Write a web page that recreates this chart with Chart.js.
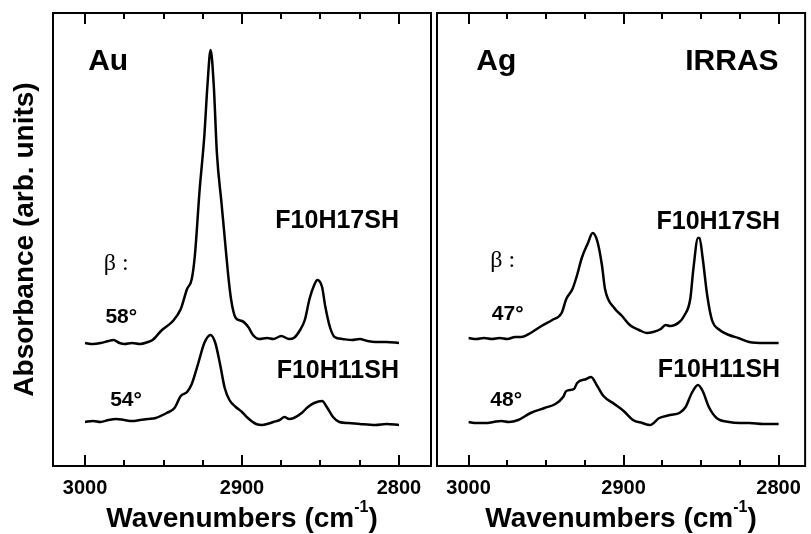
<!DOCTYPE html>
<html>
<head>
<meta charset="utf-8">
<title>IRRAS Au / Ag</title>
<script src="https://cdn.jsdelivr.net/npm/chart.js"></script>
<style>
  html, body { margin: 0; padding: 0; background: #fff; }
  #wrap { position: relative; width: 811px; height: 534px; }
  #wrap canvas { position: absolute; top: 0; }
  #auChart { left: 0; }
  #agChart { left: 434px; }
</style>
</head>
<body>
<div id="wrap">
  <canvas id="auChart" width="434" height="534"></canvas>
  <canvas id="agChart" width="377" height="534"></canvas>
</div>
<script>
// spectra: wavenumber (cm-1) and absorbance (arb. units, stacked offsets)
const auH17Wn  = [3000, 2995, 2990, 2985, 2982, 2978, 2975, 2970, 2965, 2960, 2957, 2951, 2944, 2939, 2935, 2932, 2930, 2927, 2924, 2922, 2920, 2918, 2916, 2913, 2911, 2909, 2907, 2904, 2900, 2896, 2893, 2889, 2884, 2880, 2875, 2870, 2867, 2863, 2860, 2857, 2854, 2852, 2849, 2847, 2844, 2841, 2836, 2830, 2825, 2820, 2815, 2808, 2800];
const auH17Abs = [123, 122, 123, 125, 126, 123, 122, 123, 122, 124, 126, 136, 145, 157, 177, 187, 211, 276, 330, 381, 416, 381, 313, 262, 228, 194, 167, 148, 145, 139, 131, 127, 128, 127, 130, 127, 128, 136, 146, 167, 181, 186, 179, 160, 139, 129, 127, 126, 127, 125, 124, 124, 123];

const auH11Wn  = [3000, 2995, 2990, 2985, 2980, 2975, 2970, 2965, 2960, 2955, 2948, 2943, 2939, 2935, 2932, 2928, 2924, 2920, 2917, 2914, 2911, 2908, 2904, 2900, 2897, 2891, 2887, 2884, 2880, 2876, 2873, 2870, 2867, 2862, 2858, 2854, 2849, 2846, 2842, 2838, 2832, 2825, 2815, 2808, 2800];
const auH11Abs = [44, 45, 44, 46, 47, 46, 45, 46, 47, 48, 53, 58, 70, 74, 82, 102, 123, 131, 123, 102, 78, 66, 59, 54, 49, 42, 41, 42, 44, 46, 49, 47, 48, 53, 59, 63, 65, 59, 49, 44, 43, 42, 41, 42, 41];

const agH17Wn  = [3000, 2995, 2990, 2985, 2980, 2975, 2970, 2966, 2960, 2953, 2946, 2940, 2937, 2933, 2930, 2927, 2923, 2920, 2917, 2914, 2912, 2906, 2901, 2896, 2890, 2885, 2881, 2876, 2873, 2870, 2864, 2861, 2857, 2855, 2852, 2851, 2849, 2846, 2843, 2838, 2832, 2826, 2819, 2809, 2800];
const agH17Abs = [128, 127, 128, 127, 128, 127, 129, 129, 133, 140, 146, 153, 167, 177, 191, 208, 223, 233, 225, 201, 177, 158, 150, 141, 136, 133, 134, 137, 141, 140, 144, 150, 167, 197, 228, 228, 208, 170, 146, 136, 131, 128, 124, 123, 123];

const agH11Wn  = [3000, 2995, 2989, 2984, 2979, 2974, 2968, 2960, 2951, 2944, 2939, 2937, 2932, 2930, 2924, 2921, 2917, 2913, 2906, 2900, 2894, 2888, 2883, 2877, 2870, 2864, 2860, 2856, 2852, 2849, 2845, 2840, 2832, 2825, 2819, 2810, 2800];
const agH11Abs = [44, 43, 43, 44, 45, 44, 46, 53, 58, 62, 69, 75, 77, 83, 87, 89, 80, 70, 62, 55, 46, 43, 41, 48, 51, 53, 59, 73, 81, 75, 59, 48, 44, 43, 43, 42, 42];

// panel annotations, anchored in data coordinates
const auTexts = ['Au', 'F10H17SH', 'β :', '58°', 'F10H11SH', '54°'];
const auTextWn = [2998, 2800, 2988, 2987, 2800, 2984];
const auTextAbs = [404, 245, 202, 149, 95, 66];

const agTexts = ['Ag', 'IRRAS', 'F10H17SH', 'β :', '47°', 'F10H11SH', '48°'];
const agTextWn = [2995, 2800, 2799, 2986, 2985, 2799, 2986];
const agTextAbs = [404, 404, 244, 205, 152, 96, 66];

const majorTicks = [3000, 2900, 2800];
const minorStep = 25;
const absRange = [0, 453];

const FONT = "'Liberation Sans', Arial, Helvetica, sans-serif";
Chart.defaults.font.family = FONT;
Chart.defaults.color = '#000';

function toPoints(wn, abs) {
  return wn.map((w, i) => ({ x: w, y: abs[i] }));
}

function lineSet(wn, abs) {
  return {
    data: toPoints(wn, abs),
    borderColor: '#000',
    borderWidth: 2.5,
    pointRadius: 0,
    cubicInterpolationMode: 'monotone',
    fill: false
  };
}

// frame, inward ticks, labels and the x title with superscript
const panelPlugin = {
  id: 'panel',
  afterDraw(chart, args, opts) {
    const { ctx, chartArea: a, scales: { x, y } } = chart;
    ctx.save();
    ctx.strokeStyle = '#000';
    ctx.fillStyle = '#000';
    ctx.lineWidth = 2;
    ctx.strokeRect(a.left, a.top, a.right - a.left, a.bottom - a.top);

    // tick marks pointing into the plot, bottom and top
    const lo = Math.min(...majorTicks);
    const hi = Math.max(...majorTicks);
    for (let v = lo; v <= hi; v += minorStep) {
      const px = Math.round(x.getPixelForValue(v));
      const len = majorTicks.includes(v) ? 11 : 6;
      ctx.fillRect(px - 1, a.bottom - len, 2, len);
      ctx.fillRect(px - 1, a.top, 2, len);
    }

    ctx.textBaseline = 'middle';
    opts.texts.forEach((s, i) => {
      const px = x.getPixelForValue(opts.wn[i]);
      const py = y.getPixelForValue(opts.abs[i]);
      ctx.textAlign = (s.startsWith('F10') || s === 'IRRAS') ? 'right' : 'left';
      if (s === 'Au' || s === 'Ag' || s === 'IRRAS') {
        ctx.font = 'bold 30px ' + FONT;
      } else if (s.startsWith('F10')) {
        ctx.font = 'bold 25px ' + FONT;
      } else if (s.startsWith('β')) {
        ctx.font = "24px 'Liberation Serif', 'Times New Roman', serif";
      } else {
        ctx.font = 'bold 21px ' + FONT;
      }
      ctx.fillText(s, px, py);
    });

    // axis title: Wavenumbers (cm^-1)
    const main = 'Wavenumbers (cm';
    const sup = '-1';
    const close = ')';
    ctx.textBaseline = 'alphabetic';
    ctx.textAlign = 'left';
    ctx.font = 'bold 28px ' + FONT;
    const wMain = ctx.measureText(main).width;
    const wClose = ctx.measureText(close).width;
    ctx.font = 'bold 16px ' + FONT;
    const wSup = ctx.measureText(sup).width;
    let tx = (a.left + a.right) / 2 - (wMain + wSup + wClose) / 2;
    const base = a.bottom + 61;
    ctx.font = 'bold 28px ' + FONT;
    ctx.fillText(main, tx, base);
    tx += wMain;
    ctx.font = 'bold 16px ' + FONT;
    ctx.fillText(sup, tx, base - 15);
    tx += wSup;
    ctx.font = 'bold 28px ' + FONT;
    ctx.fillText(close, tx, base);
    ctx.restore();
  }
};

function makeOptions(xMin, xMax, showY, pad, texts, wn, abs) {
  return {
    responsive: false,
    animation: false,
    layout: { padding: pad },
    plugins: {
      legend: { display: false },
      tooltip: { enabled: false },
      panel: { texts: texts, wn: wn, abs: abs }
    },
    scales: {
      x: {
        type: 'linear',
        reverse: true,
        min: xMin,
        max: xMax,
        grid: { display: false, drawTicks: false },
        border: { display: false },
        ticks: {
          stepSize: minorStep,
          includeBounds: false,
          autoSkip: false,
          maxRotation: 0,
          padding: 10,
          font: { size: 20, weight: 'bold' },
          callback: v => majorTicks.includes(v) ? String(v) : ''
        },
        afterFit: s => { s.height = 68; }
      },
      y: {
        display: showY,
        min: absRange[0],
        max: absRange[1],
        grid: { display: false, drawTicks: false },
        border: { display: false },
        ticks: { display: false },
        title: {
          display: true,
          text: 'Absorbance (arb. units)',
          font: { size: 28, weight: 'bold' },
          padding: { top: 8, bottom: 0 }
        },
        afterFit: s => { s.width = showY ? 53 : 0; }
      }
    }
  };
}

new Chart(document.getElementById('auChart'), {
  type: 'line',
  data: { datasets: [lineSet(auH17Wn, auH17Abs), lineSet(auH11Wn, auH11Abs)] },
  options: makeOptions(2779.6, 3020.4, true, { top: 13, right: 3, left: 0, bottom: 0 }, auTexts, auTextWn, auTextAbs),
  plugins: [panelPlugin]
});

new Chart(document.getElementById('agChart'), {
  type: 'line',
  data: { datasets: [lineSet(agH17Wn, agH17Abs), lineSet(agH11Wn, agH11Abs)] },
  options: makeOptions(2782.9, 3020.4, false, { top: 13, right: 2, left: 3, bottom: 0 }, agTexts, agTextWn, agTextAbs),
  plugins: [panelPlugin]
});
</script>
</body>
</html>
